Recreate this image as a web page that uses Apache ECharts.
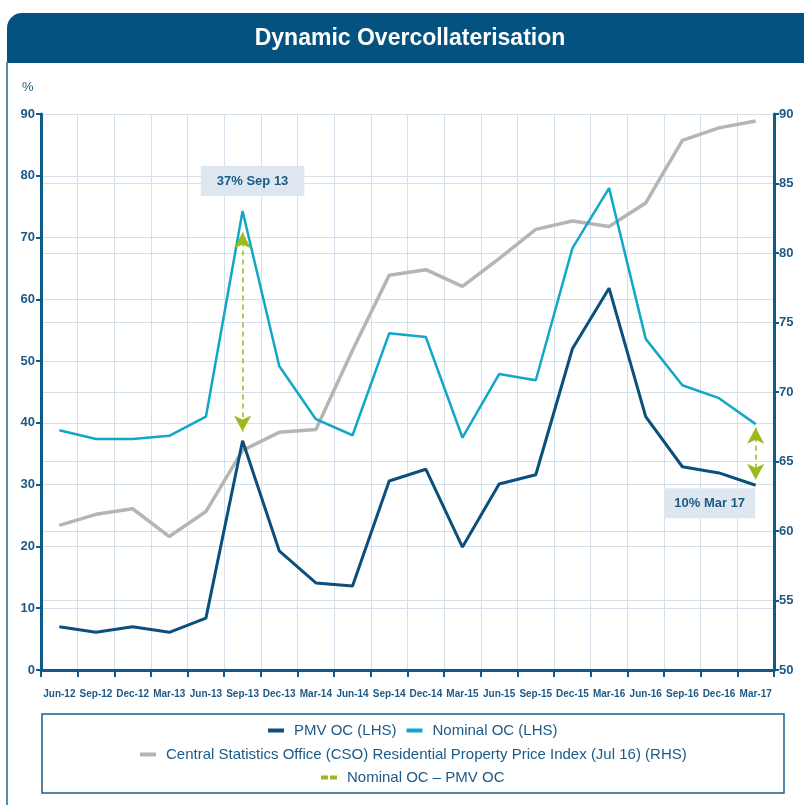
<!DOCTYPE html>
<html>
<head>
<meta charset="utf-8">
<script src="https://cdn.jsdelivr.net/npm/echarts@6/dist/echarts.min.js"></script>
<style>
html,body{margin:0;padding:0;background:#fff;}
#chart{width:804px;height:805px;}
</style>
</head>
<body>
<div id="chart"></div>
<script>
const categories = ['Jun-12','Sep-12','Dec-12','Mar-13','Jun-13','Sep-13','Dec-13','Mar-14','Jun-14','Sep-14','Dec-14','Mar-15','Jun-15','Sep-15','Dec-15','Mar-16','Jun-16','Sep-16','Dec-16','Mar-17'];
const pmvOC = [7.0,6.1,7.0,6.1,8.4,37.1,19.3,14.1,13.6,30.6,32.5,19.9,30.1,31.6,52.0,61.8,41.0,32.9,31.9,29.9];
const nominalOC = [38.8,37.4,37.4,37.9,41.0,74.3,49.2,40.6,38.0,54.5,53.9,37.6,47.9,46.9,68.3,78.0,53.6,46.1,44.0,39.8];
const csoIndex = [60.4,61.2,61.6,59.6,61.4,65.8,67.1,67.3,73.0,78.4,78.8,77.6,79.6,81.7,82.3,81.9,83.6,88.1,89.0,89.5];
const leftTicks = {min:0, max:90, interval:10};
const rightTicks = {min:50, max:90, interval:5};
const seriesNames = ['PMV OC (LHS)','Nominal OC (LHS)','Central Statistics Office (CSO) Residential Property Price Index (Jul 16) (RHS)','Nominal OC \u2013 PMV OC'];
const annotated = [5, 19];
const annotLabels = ['Sep 13','Mar 17'];

const FONT = '"Liberation Sans", Arial, Helvetica, sans-serif';
const NAVY = '#0f5a89';
const TXT = '#1b5a87';
const GRIDC = '#d5e0eb';
const GREEN = '#9bbb1c';
const C_PMV = '#0b4f7c', C_NOM = '#12a7c9', C_CSO = '#b5b5b5';

const SOLID_ICON = 'path://M0,0H16V4H0Z';
const DASH_ICON = 'path://M0,0H7V4H0ZM9,0H16V4H9Z';

const chart = echarts.init(document.getElementById('chart'), null, {renderer:'canvas'});

function gapLabel(i){ return Math.round(nominalOC[i]-pmvOC[i]) + '% ' + annotLabels[annotated.indexOf(i)]; }

const measureCtx = document.createElement('canvas').getContext('2d');
const LEG_FONT_SIZE = 15, ICON_W = 16, ITEM_GAP = 10, LEG_CENTER = 413;
function legendLeft(names){
  measureCtx.font = LEG_FONT_SIZE + 'px ' + FONT;
  let w = 0;
  names.forEach((n, i) => { w += ICON_W + 5 + 5 + measureCtx.measureText(n).width; if (i) w += ITEM_GAP; });
  return Math.round(LEG_CENTER - w / 2);
}

const legendBase = {itemGap:ITEM_GAP, itemWidth:ICON_W, itemHeight:4, padding:0,
  textStyle:{color:TXT, fontSize:LEG_FONT_SIZE, fontFamily:FONT, padding:[0,0,0,5]}};

const option = {
  animation:false,
  backgroundColor:'#ffffff',
  textStyle:{fontFamily:FONT},
  grid:{left:41, right:30, top:114, bottom:135, containLabel:false},
  xAxis:{
    type:'category', data:categories, boundaryGap:true,
    axisLine:{show:true, lineStyle:{color:NAVY, width:3}},
    axisTick:{show:true, interval:0, length:7, lineStyle:{color:NAVY, width:2}},
    axisLabel:{interval:0, color:TXT, fontSize:10, fontWeight:'bold', margin:19, fontFamily:FONT},
    splitLine:{show:true, interval:0, lineStyle:{color:GRIDC, width:1}}
  },
  yAxis:[
    {type:'value', position:'left', min:leftTicks.min, max:leftTicks.max, interval:leftTicks.interval,
     axisLine:{show:true, lineStyle:{color:NAVY, width:3}},
     axisTick:{show:true, length:5, lineStyle:{color:NAVY, width:2}},
     axisLabel:{color:TXT, fontSize:13, fontWeight:'bold', margin:6, fontFamily:FONT},
     splitLine:{show:true, lineStyle:{color:GRIDC, width:1}}},
    {type:'value', position:'right', min:rightTicks.min, max:rightTicks.max, interval:rightTicks.interval,
     axisLine:{show:true, lineStyle:{color:NAVY, width:3}},
     axisTick:{show:true, length:5, lineStyle:{color:NAVY, width:2}},
     axisLabel:{color:TXT, fontSize:13, fontWeight:'bold', margin:5, fontFamily:FONT},
     splitLine:{show:true, lineStyle:{color:GRIDC, width:1}}}
  ],
  legend:[
    Object.assign({}, legendBase, {top:723, left:legendLeft([seriesNames[0], seriesNames[1]]), data:[
      {name:seriesNames[0], icon:SOLID_ICON, itemStyle:{color:C_PMV}},
      {name:seriesNames[1], icon:SOLID_ICON, itemStyle:{color:C_NOM}}]}),
    Object.assign({}, legendBase, {top:747, left:legendLeft([seriesNames[2]]), data:[
      {name:seriesNames[2], icon:SOLID_ICON, itemStyle:{color:C_CSO}}]}),
    Object.assign({}, legendBase, {top:770, left:legendLeft([seriesNames[3]]), data:[
      {name:seriesNames[3], icon:DASH_ICON, itemStyle:{color:GREEN}}]})
  ],
  series:[
    {name:seriesNames[2], type:'line', yAxisIndex:1, data:csoIndex, symbol:'none', z:2,
     lineStyle:{color:C_CSO, width:3.5}, itemStyle:{color:C_CSO}},
    {name:seriesNames[1], type:'line', data:nominalOC, symbol:'none', z:3,
     lineStyle:{color:C_NOM, width:2.5}, itemStyle:{color:C_NOM},
     markPoint:{symbol:'rect', symbolSize:0, silent:true, data:[
       {coord:[categories[annotated[0]], nominalOC[annotated[0]]],
        label:{show:true, position:'inside', offset:[10,-30], formatter:gapLabel(annotated[0]),
               backgroundColor:'#dee7ef', padding:[9,16,8,16], color:TXT, fontSize:13, fontWeight:'bold', fontFamily:FONT}}
     ]}},
    {name:seriesNames[0], type:'line', data:pmvOC, symbol:'none', z:4,
     lineStyle:{color:C_PMV, width:3}, itemStyle:{color:C_PMV},
     markPoint:{symbol:'rect', symbolSize:0, silent:true, data:[
       {coord:[categories[annotated[1]], pmvOC[annotated[1]]],
        label:{show:true, position:'inside', offset:[-46,18], formatter:gapLabel(annotated[1]),
               backgroundColor:'#dee7ef', padding:[9,10,8,10], color:TXT, fontSize:13, fontWeight:'bold', fontFamily:FONT}}
     ]}},
    {name:seriesNames[3], type:'line', data:[], symbol:'none', z:5,
     lineStyle:{color:GREEN, width:2, type:'dashed'}, itemStyle:{color:GREEN},
     markLine:{silent:true, symbol:['arrow','arrow'], symbolSize:[13,16],
       lineStyle:{color:GREEN, width:1.5, type:[5,4]}, label:{show:false},
       data:[
         [{coord:[categories[annotated[0]], nominalOC[annotated[0]]-3.5]},{coord:[categories[annotated[0]], pmvOC[annotated[0]]+1.5]}],
         [{coord:[categories[annotated[1]], nominalOC[annotated[1]]-0.6]},{coord:[categories[annotated[1]], pmvOC[annotated[1]]+0.9]}]
       ]}}
  ],
  graphic:[
    {type:'rect', shape:{x:7, y:13, width:800, height:50, r:[15,0,0,0]}, style:{fill:'#03527f'}, z:10},
    {type:'text', x:410, y:39, style:{text:'Dynamic Overcollateralisation'.replace('ral','r'), fill:'#ffffff', font:'bold 23px '+FONT, textAlign:'center', textVerticalAlign:'middle'}, z:11},
    {type:'line', shape:{x1:7, y1:62, x2:7, y2:805}, style:{stroke:'#5a8bad', lineWidth:2}, z:10},
    {type:'text', x:22, y:81, style:{text:'%', fill:TXT, font:'13px '+FONT}, z:10},
    {type:'rect', shape:{x:42, y:714, width:742, height:79}, style:{fill:'none', stroke:'#1f5f8b', lineWidth:1.5}, z:10}
  ]
};
chart.setOption(option);
</script>
</body>
</html>
